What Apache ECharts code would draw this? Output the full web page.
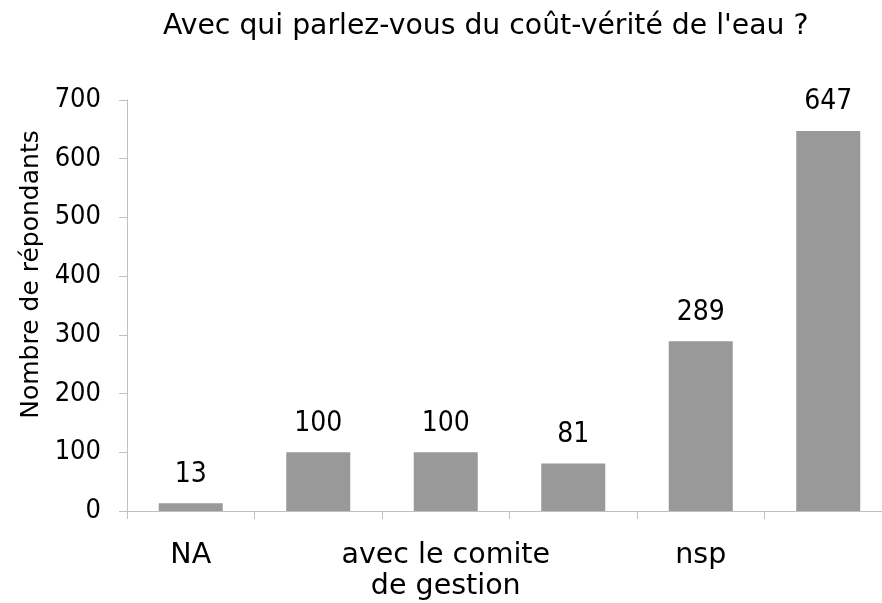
<!DOCTYPE html>
<html>
<head>
<meta charset="utf-8">
<script src="https://cdn.jsdelivr.net/npm/echarts@6/dist/echarts.min.js"></script>
<style>
  html, body { margin: 0; padding: 0; background: #fff; }
  #chart { width: 882px; height: 603px; }
</style>
</head>
<body>
<div id="chart"></div>
<script>
// categories (only every other label is shown in the original)
var categories = ['NA', '', 'avec le comite\nde gestion', '', 'nsp', ''];
var values = [13, 100, 100, 81, 289, 647];
var yTicks = { min: 0, max: 700, interval: 100 };

var textFont = '"DejaVu Sans", sans-serif';
var numFont = '"DejaVu Sans Condensed", "DejaVu Sans", sans-serif';

var myChart = echarts.init(document.getElementById('chart'));
var option = {
    backgroundColor: '#fff',
    title: {
        text: "Avec qui parlez-vous du coût-vérité de l'eau ?",
        left: 158,
        top: 8,
        textStyle: { fontFamily: textFont, fontSize: 28.3, fontWeight: 'normal', color: '#000' }
    },
    grid: { left: 127, width: 765, top: 100, bottom: 92, outerBoundsMode: 'none' },
    xAxis: {
        type: 'category',
        data: categories,
        axisLine: { lineStyle: { color: '#bfbfbf' } },
        axisTick: { show: true, length: 8, lineStyle: { color: '#bfbfbf' } },
        axisLabel: { interval: 0, fontSize: 28.5, color: '#000', margin: 29, lineHeight: 31, fontFamily: textFont }
    },
    yAxis: {
        type: 'value',
        min: yTicks.min,
        max: yTicks.max,
        interval: yTicks.interval,
        name: 'Nombre de répondants',
        nameLocation: 'middle',
        nameGap: 80,
        nameTextStyle: { fontSize: 25, color: '#000', fontFamily: textFont, padding: [0, 0, 0, 62] },
        axisLine: { show: true, lineStyle: { color: '#bfbfbf' } },
        axisTick: { show: true, length: 8, lineStyle: { color: '#bfbfbf' } },
        splitLine: { show: false },
        axisLabel: { fontSize: 27, color: '#000', margin: 26, fontFamily: numFont }
    },
    series: [{
        type: 'bar',
        data: values,
        barWidth: 64,
        itemStyle: { color: '#999999' },
        label: { show: true, position: 'top', distance: 15, fontSize: 28, color: '#000', fontFamily: numFont }
    }]
};
myChart.setOption(option);
</script>
</body>
</html>
